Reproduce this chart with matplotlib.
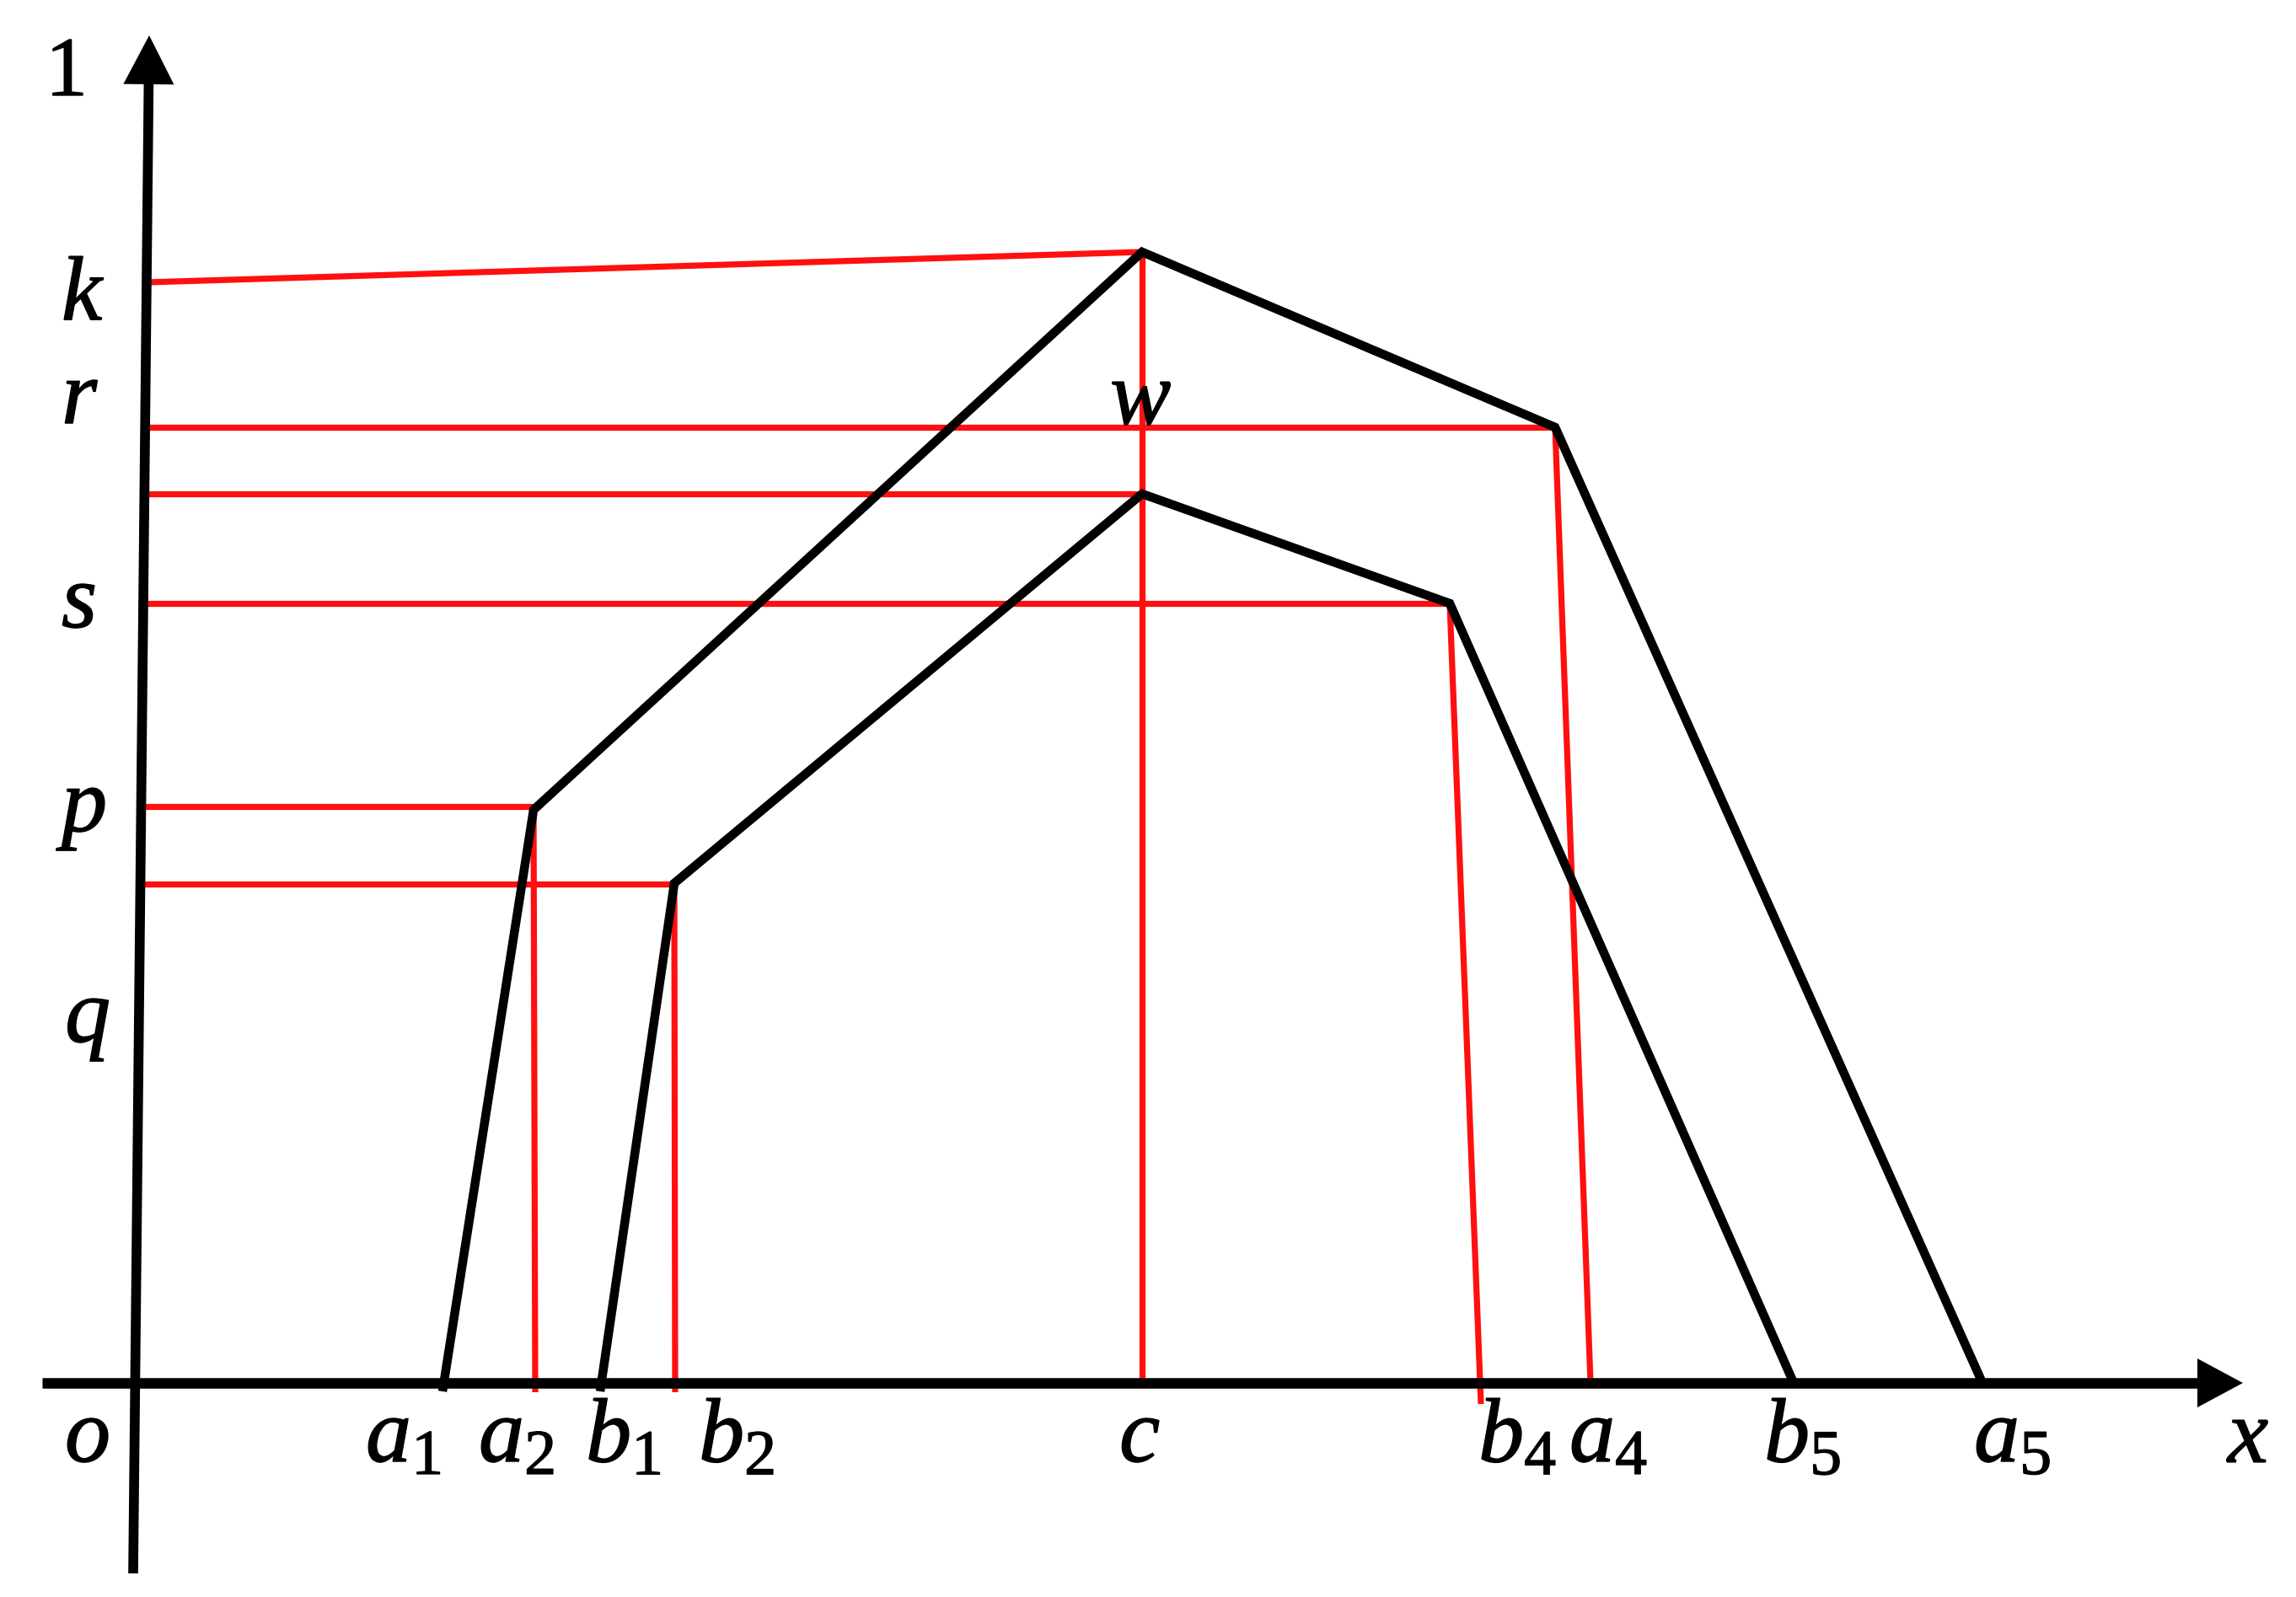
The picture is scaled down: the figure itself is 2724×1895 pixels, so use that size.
import numpy as np
import matplotlib.pyplot as plt
import matplotlib.patheffects as pe
from matplotlib.patches import Polygon

plt.rcParams['mathtext.fontset'] = 'custom'
plt.rcParams['mathtext.it'] = 'Liberation Serif:italic'
plt.rcParams['mathtext.rm'] = 'Liberation Serif'

W, H = 2724, 1895
BASE = 1641  # pixel row of the x axis, heights below are measured from it

# vertices of the two membership functions (x, height above the x axis)
upper_x = [525, 633, 1355, 1845, 2352]
upper_y = [-10, 680, 1342, 1134, 0]
lower_x = [712, 800, 1355, 1720, 2128]
lower_y = [-10, 593, 1055, 925, 0]

# red horizontal guides (from the y axis to the curve)
hguide_y0 = [1306, 1134, 1055, 925, 684, 592]
hguide_x1 = [1355, 1845, 1355, 1720, 633, 800]
hguide_y1 = [1342, 1134, 1055, 925, 684, 592]

# red vertical guides (from the curve down to the x axis)
vguide_x0 = [633, 800, 1355, 1720, 1845]
vguide_y0 = [684, 592, 1342, 925, 1134]
vguide_x1 = [635, 801, 1355, 1757, 1887]
vguide_y1 = [-11, -11, 0, -25, 0]

# axes
yaxis_bottom = (158, -226)
yaxis_tip = (177, 1599)
xaxis_start = (50, 0)
xaxis_tip = (2661, 0)

# labels under the x axis (left edge, baseline height)
xlabels = ['$o$', '$a_1$', '$a_2$', '$b_1$', '$b_2$', '$c$',
           '$b_4$', '$a_4$', '$b_5$', '$a_5$', '$x$']
xlabel_x = [77, 434, 568, 695, 829, 1328, 1754, 1862, 2093, 2342, 2643]
xlabel_base = -94

# labels left of the y axis
ylabels = ['$k$', '$r$', '$s$', '$p$', '$q$']
ylabel_x = [73, 73, 73, 73, 77]
ylabel_base = [1261, 1138, 896, 654, 404]


def yaxis_x(h):
    # x of the (slightly tilted) y axis at height h
    (x0, y0), (x1, y1) = yaxis_bottom, yaxis_tip
    return x0 + (h - y0) / (y1 - y0) * (x1 - x0)


def arrow(ax, start, tip, length, half_width, lw):
    start = np.array(start, float)
    tip = np.array(tip, float)
    d = (tip - start) / np.linalg.norm(tip - start)
    n = np.array([-d[1], d[0]])
    base = tip - d * length
    ax.plot([start[0], base[0] + d[0] * 2], [start[1], base[1] + d[1] * 2],
            color='black', lw=lw, solid_capstyle='butt', zorder=5)
    head = Polygon([tip, base + n * half_width, base - n * half_width],
                   closed=True, fc='black', ec='none', zorder=5)
    ax.add_patch(head)


fig = plt.figure(figsize=(W / 100, H / 100), dpi=100)
ax = fig.add_axes([0, 0, 1, 1])
ax.set_xlim(0, W)
ax.set_ylim(BASE - H, BASE)
ax.axis('off')

red = '#ff1010'
for y0, x1, y1 in zip(hguide_y0, hguide_x1, hguide_y1):
    ax.plot([yaxis_x(y0), x1], [y0, y1], color=red, lw=5.2,
            solid_capstyle='butt', zorder=2)
for x0, y0, x1, y1 in zip(vguide_x0, vguide_y0, vguide_x1, vguide_y1):
    ax.plot([x0, x1], [y0, y1], color=red, lw=5.2,
            solid_capstyle='butt', zorder=2)

ax.plot(upper_x, upper_y, color='black', lw=7.6, solid_joinstyle='miter',
        solid_capstyle='butt', zorder=3)
ax.plot(lower_x, lower_y, color='black', lw=7.6, solid_joinstyle='miter',
        solid_capstyle='butt', zorder=3)

arrow(ax, xaxis_start, xaxis_tip, 54, 29, 9)
arrow(ax, yaxis_bottom, yaxis_tip, 58, 30, 8.4)

fs = 78
bold = [pe.withStroke(linewidth=1.0, foreground='black')]
for lab, x in zip(xlabels, xlabel_x):
    ax.text(x, xlabel_base, lab, fontsize=fs, ha='left', va='baseline',
            path_effects=bold)
for lab, x, y in zip(ylabels, ylabel_x, ylabel_base):
    ax.text(x, y, lab, fontsize=fs, ha='left', va='baseline',
            path_effects=bold)
ax.text(54, 1528, '1', fontsize=72, family='Liberation Serif',
        ha='left', va='baseline', path_effects=bold)
ax.text(1317, 1138, '$w$', fontsize=fs, ha='left', va='baseline',
        path_effects=bold)

fig.savefig('out.png', dpi=100, facecolor='white')
